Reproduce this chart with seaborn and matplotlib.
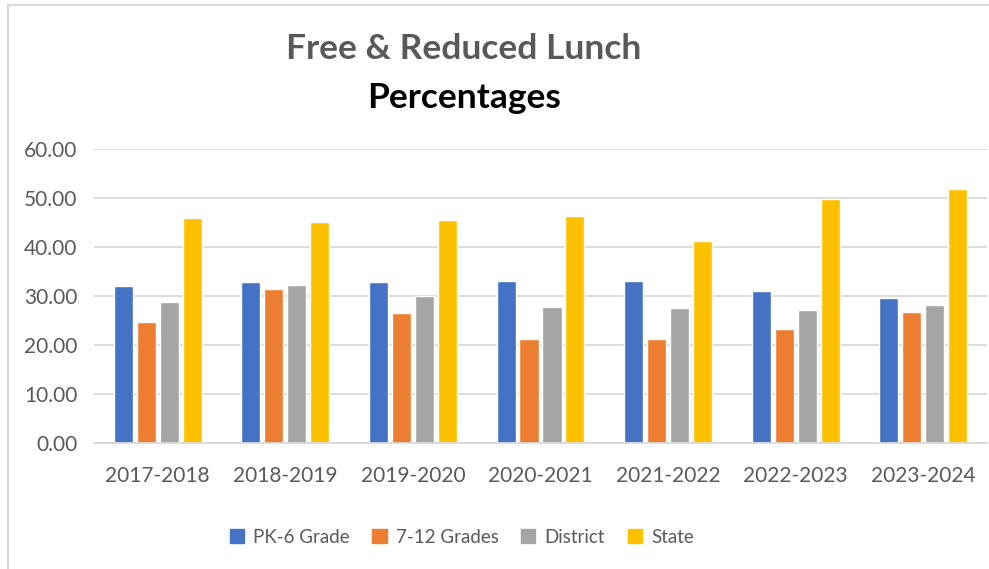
import pandas as pd
import numpy as np
import matplotlib.pyplot as plt
import seaborn as sns
from matplotlib.lines import Line2D

# data
years = ["2017-2018", "2018-2019", "2019-2020", "2020-2021", "2021-2022", "2022-2023", "2023-2024"]
pk6 = [32.1, 32.9, 32.9, 33.1, 33.1, 31.1, 29.6]
g712 = [24.7, 31.5, 26.6, 21.3, 21.3, 23.3, 26.8]
district = [28.8, 32.3, 30.0, 27.8, 27.6, 27.2, 28.2]
state = [45.9, 45.1, 45.5, 46.3, 41.2, 49.8, 51.8]
series = ["PK-6 Grade", "7-12 Grades", "District", "State"]
colors = ["#4472C4", "#ED7D31", "#A5A5A5", "#FFC000"]

df = pd.DataFrame({
    "year": years * 4,
    "series": np.repeat(series, len(years)),
    "value": pk6 + g712 + district + state,
})

sns.set_theme(style="white")
plt.rcParams['font.family'] = ['Lato', 'DejaVu Sans']

fig = plt.figure(figsize=(9.89, 5.69), dpi=100)
ax = fig.add_axes([0.0950, 0.2209, 0.903, 0.5172])

sns.barplot(data=df, x="year", y="value", hue="series", hue_order=series,
            palette=colors, saturation=1, width=0.72, gap=0.17, ax=ax, legend=False)

ax.set_ylim(0, 60)
ax.set_yticks(np.arange(0, 61, 10))
ax.yaxis.set_major_formatter(plt.FuncFormatter(lambda v, _: f'{v:.2f}'))
ax.set_xlim(-0.5, len(years) - 0.5)
ax.grid(axis='y', color='#d9d9d9', linewidth=1.3)
ax.set_axisbelow(True)
for s in ['top', 'right', 'left']:
    ax.spines[s].set_visible(False)
ax.spines['bottom'].set_color('#d9d9d9')
ax.spines['bottom'].set_linewidth(1.3)
ax.tick_params(axis='both', length=0, labelsize=15, colors='#595959')
ax.tick_params(axis='x', pad=16)
ax.tick_params(axis='y', pad=12)
ax.set_xlabel('')
ax.set_ylabel('')

# 标题（两行两种颜色）
fig.text(0.469, 0.8963, "Free & Reduced Lunch", ha='center', va='baseline',
         fontsize=25.5, fontweight='bold', color='#595959')
fig.text(0.469, 0.8102, "Percentages", ha='center', va='baseline',
         fontsize=25.5, fontweight='bold', color='black')

# legend
handles = [plt.Rectangle((0, 0), 1, 1, color=c) for c in colors]
fig.legend(handles, series, loc='center', bbox_to_anchor=(0.467, 0.056), ncol=4,
           frameon=False, fontsize=13.5, labelcolor='#595959',
           handlelength=0.75, handleheight=0.75, handletextpad=0.5, columnspacing=1.2)

# outer chart border
fig.add_artist(Line2D([7.5 / 989, 1], [1 - 4.5 / 569, 1 - 4.5 / 569], color='#d9d9d9', lw=1.5))
fig.add_artist(Line2D([7.5 / 989, 7.5 / 989], [0, 1 - 4.5 / 569], color='#d9d9d9', lw=1.5))

plt.savefig("out.png", dpi=100)
